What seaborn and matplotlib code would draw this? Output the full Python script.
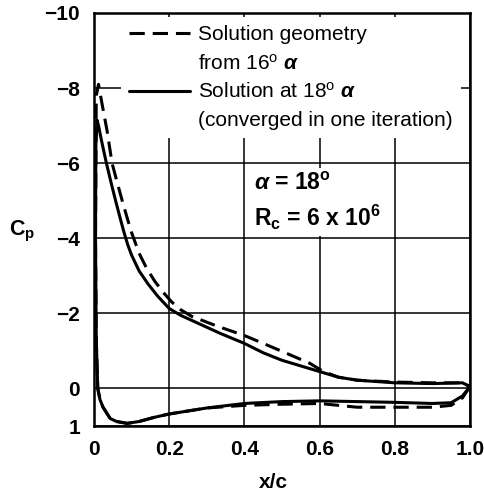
import matplotlib
matplotlib.use("Agg")
import matplotlib.pyplot as plt
import seaborn as sns
import pandas as pd
from matplotlib.lines import Line2D

sns.set_theme(style="white")
plt.rcParams['font.family'] = ['Liberation Sans', 'DejaVu Sans']
plt.rcParams['mathtext.fontset'] = 'custom'
plt.rcParams['mathtext.rm'] = 'Liberation Sans'
plt.rcParams['mathtext.it'] = 'Liberation Sans:italic:bold'
plt.rcParams['mathtext.bf'] = 'Liberation Sans:bold'

# ---------------- data ----------------
# Solution geometry from 16 deg alpha (dashed); path: TE lower -> LE -> upper -> TE
x_16 = [1.0, 0.98, 0.95, 0.9, 0.8, 0.7, 0.6, 0.5, 0.4, 0.3, 0.2, 0.16, 0.12, 0.088,
        0.06, 0.043, 0.024, 0.016, 0.01, 0.006, 0.004, 0.006, 0.012, 0.021, 0.035,
        0.048, 0.06, 0.075, 0.088, 0.1, 0.12, 0.14, 0.162, 0.185, 0.207, 0.23, 0.26,
        0.33, 0.4, 0.476, 0.574, 0.61, 0.65, 0.7, 0.8, 0.9, 0.98, 1.0]
cp_16 = [-0.05, 0.25, 0.45, 0.5, 0.5, 0.5, 0.4, 0.42, 0.45, 0.52, 0.68, 0.77, 0.88, 0.93,
         0.88, 0.8, 0.5, 0.3, 0.0, -1.3, -4.0, -7.8, -8.1, -7.6, -6.85,
         -6.0, -5.55, -5.0, -4.55, -4.15, -3.6, -3.2, -2.85, -2.55, -2.3, -2.1, -1.92,
         -1.65, -1.41, -1.09, -0.67, -0.45, -0.3, -0.22, -0.17, -0.15, -0.15, -0.05]

# Solution at 18 deg alpha (solid)
x_18 = [1.0, 0.98, 0.95, 0.9, 0.8, 0.7, 0.6, 0.5, 0.4, 0.3, 0.2, 0.16, 0.12, 0.088,
        0.06, 0.043, 0.024, 0.016, 0.01, 0.006, 0.004, 0.005, 0.008, 0.012, 0.02,
        0.033, 0.045, 0.058, 0.07, 0.08, 0.09, 0.1, 0.12, 0.144, 0.17, 0.2, 0.23, 0.3,
        0.335, 0.4, 0.45, 0.5, 0.55, 0.6, 0.65, 0.7, 0.8, 0.9, 0.98, 1.0]
cp_18 = [-0.05, 0.2, 0.38, 0.4, 0.37, 0.35, 0.33, 0.35, 0.4, 0.52, 0.68, 0.77, 0.88, 0.93,
         0.88, 0.8, 0.5, 0.3, 0.0, -1.3, -4.0, -6.5, -7.15, -7.0, -6.6,
         -6.0, -5.5, -4.98, -4.52, -4.15, -3.82, -3.55, -3.13, -2.78, -2.45, -2.13, -1.95, -1.63,
         -1.47, -1.2, -0.95, -0.75, -0.6, -0.45, -0.3, -0.22, -0.15, -0.13, -0.15, -0.05]

x_ticks = [0, 0.2, 0.4, 0.6, 0.8, 1.0]
x_tick_labels = ["0", "0.2", "0.4", "0.6", "0.8", "1.0"]
y_ticks = [-10, -8, -6, -4, -2, 0, 1]
y_tick_labels = ["\u221210", "\u22128", "\u22126", "\u22124", "\u22122", "0", "1"]

legend_labels = ["Solution geometry", r"from 16$^{\mathregular{o}}$ $\alpha$",
                 r"Solution at 18$^{\mathregular{o}}$ $\alpha$", "(converged in one iteration)"]

# ---------------- figure ----------------
fig = plt.figure(figsize=(4.84, 4.96), dpi=100)
ax = fig.add_axes([94/484, 1 - 426/496, 376/484, 413/496])

df16 = pd.DataFrame({"x": x_16, "cp": cp_16})
df18 = pd.DataFrame({"x": x_18, "cp": cp_18})

sns.lineplot(data=df18, x="x", y="cp", sort=False, estimator=None, color="black",
             linewidth=2.2, ax=ax, legend=False)
sns.lineplot(data=df16, x="x", y="cp", sort=False, estimator=None, color="black",
             linewidth=2.2, ax=ax, legend=False)
ax.lines[-1].set_dashes([5, 2.6])
for ln in ax.lines:
    ln.set_solid_joinstyle("round")
    ln.set_dash_joinstyle("round")

ax.set_xlim(0, 1.0)
ax.set_ylim(1, -10)
ax.set_xticks(x_ticks)
ax.set_xticklabels(x_tick_labels)
ax.set_yticks(y_ticks)
ax.set_yticklabels(y_tick_labels)
ax.tick_params(axis="both", length=0, labelsize=15, colors="black")
ax.tick_params(axis="y", pad=10)
ax.tick_params(axis="x", pad=10)
for lab in ax.get_xticklabels() + ax.get_yticklabels():
    lab.set_fontweight("bold")

ax.grid(True, color="black", linewidth=1.1)
ax.set_axisbelow(True)
for sp in ax.spines.values():
    sp.set_color("black")
    sp.set_linewidth(1.8)
    sp.set_zorder(3)

ax.set_xlabel("x/c", fontsize=15, fontweight="bold", color="black", va="center")
ax.xaxis.set_label_coords(0.476, -0.136)
ax.set_ylabel(r"$\mathbf{C}_{\mathbf{p}}$", fontsize=15.5, rotation=0, color="black",
              va="center", ha="center")
ax.yaxis.set_label_coords(-0.19, 0.47)

# legend
h_dash = Line2D([], [], color="black", linewidth=2.2, dashes=[5, 2.6])
h_solid = Line2D([], [], color="black", linewidth=2.2)
h_blank = Line2D([], [], color="none")
leg = ax.legend(handles=[h_dash, h_blank, h_solid, h_blank], labels=legend_labels,
                loc="upper left", bbox_to_anchor=(0.072, 0.99), borderaxespad=0,
                frameon=True, fancybox=False, framealpha=1, facecolor="white",
                edgecolor="none", fontsize=15, handlelength=2.93, handletextpad=0.38,
                labelspacing=0.42, borderpad=0.4)
for t in leg.get_texts():
    t.set_color("black")
leg.set_zorder(2.5)

# annotation
ax.text(0.425, -5.45, r"$\alpha$ = 18$^{\mathbf{o}}$", fontsize=16.5, fontweight="bold",
        va="center", ha="left", color="black",
        bbox=dict(facecolor="white", edgecolor="none", pad=3))
ax.text(0.425, -4.55, r"R$_{\mathbf{c}}$ = 6 x 10$^{\mathbf{6}}$", fontsize=16.5,
        fontweight="bold", va="center", ha="left", color="black",
        bbox=dict(facecolor="white", edgecolor="none", pad=3))

fig.savefig("out.png", dpi=100)
